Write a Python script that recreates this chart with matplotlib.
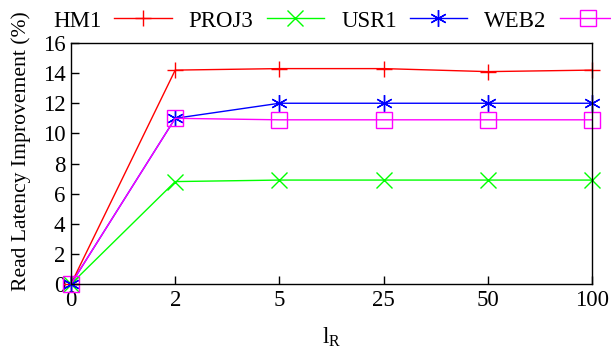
import matplotlib
matplotlib.use("Agg")
import matplotlib.pyplot as plt

plt.rcParams['font.family'] = ['Liberation Serif', 'DejaVu Serif']
plt.rcParams['mathtext.fontset'] = 'custom'
plt.rcParams['mathtext.rm'] = 'Liberation Serif'
plt.rcParams['mathtext.it'] = 'Liberation Serif'

x_labels = ['0', '2', '5', '25', '50', '100']
hm1 = [0, 14.2, 14.3, 14.3, 14.1, 14.2]
proj3 = [0, 6.8, 6.9, 6.9, 6.9, 6.9]
usr1 = [0, 11.0, 12.0, 12.0, 12.0, 12.0]
web2 = [0, 11.0, 10.9, 10.9, 10.9, 10.9]

fig = plt.figure(figsize=(6.11, 3.54), dpi=100)
ax = fig.add_axes([71/611, 1-284/354, (592-71)/611, (284-43)/354])

xs = list(range(len(x_labels)))
fs = 16.5
ax.plot(xs, hm1, color='#ff0000', marker='+', markersize=12, markeredgewidth=1, lw=1, label='HM1', clip_on=False)
ax.plot(xs, proj3, color='#00ff00', marker='x', markersize=11, markeredgewidth=1, lw=1, label='PROJ3', clip_on=False)
ax.plot(xs, usr1, color='#0000ff', marker=(6, 2, 0), markersize=12, markeredgewidth=1, lw=1, label='USR1', clip_on=False)
ax.plot(xs, web2, color='#ff00ff', marker='s', markersize=11, markerfacecolor='none', markeredgewidth=1, lw=1, label='WEB2', clip_on=False)

ax.set_xlim(0, 5)
ax.set_ylim(0, 16)
ax.set_xticks(xs)
ax.set_xticklabels(x_labels, fontsize=fs)
ax.set_yticks(range(0, 17, 2))
ax.tick_params(axis='both', direction='in', length=6, width=1, labelsize=fs, top=False, right=False, pad=4)
for s in ax.spines.values():
    s.set_linewidth(1)
ax.set_ylabel('Read Latency Improvement (%)', fontsize=15.6)
ax.yaxis.set_label_coords((31 - 71) / 521, (284 - 151) / 241)
ax.set_xlabel(r'l$_\mathrm{R}$', fontsize=fs, labelpad=11)

fig.legend(loc='center left', bbox_to_anchor=(53/611, 1-21/354), ncol=4, frameon=False,
           markerfirst=False, fontsize=fs, handlelength=2.5, columnspacing=0.75, handletextpad=0.57,
           borderpad=0, borderaxespad=0)

fig.savefig('out.png', dpi=100)
